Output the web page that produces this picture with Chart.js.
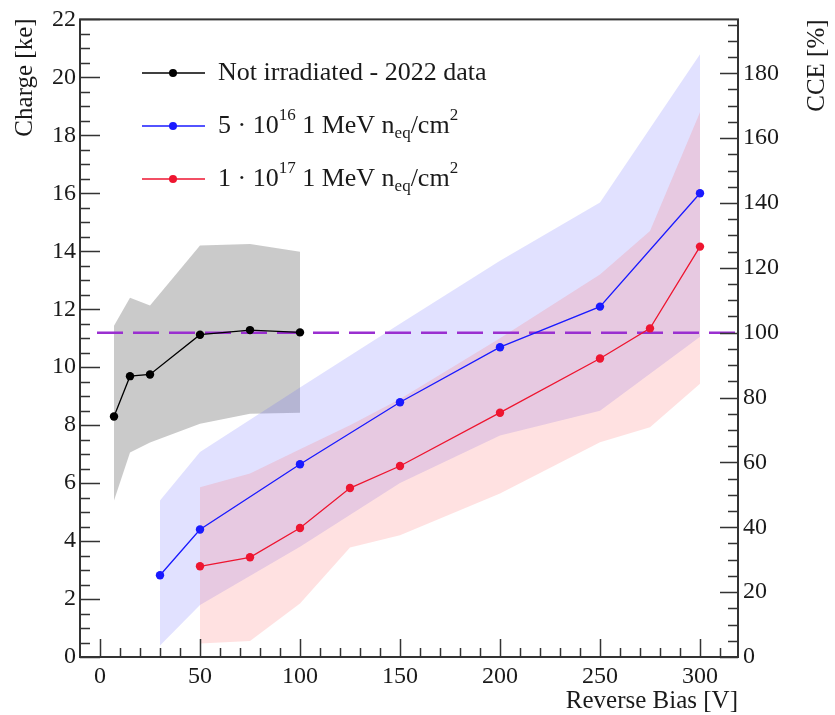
<!DOCTYPE html>
<html>
<head>
<meta charset="utf-8">
<script src="https://cdn.jsdelivr.net/npm/chart.js@4.4.1/dist/chart.umd.min.js"></script>
<style>
html, body { margin: 0; padding: 0; background: #fff; }
</style>
</head>
<body>
<canvas id="myChart" width="835" height="715"></canvas>
<script>
// reverse bias [V] and charge [ke]
var biasNonIrr = [7, 15, 25, 50, 75, 100];
var chargeNonIrr = [8.30, 9.69, 9.75, 11.12, 11.28, 11.20];
var bandNonIrrHigh = [11.43, 12.4, 12.13, 14.2, 14.25, 13.98];
var bandNonIrrLow = [5.4, 7.06, 7.4, 8.05, 8.39, 8.43];

var bias5e16 = [30, 50, 100, 150, 200, 250, 300];
var charge5e16 = [2.82, 4.40, 6.65, 8.79, 10.69, 12.09, 16.0];
var band5e16High = [5.4, 7.07, 9.3, 11.5, 13.67, 15.68, 20.8];
var band5e16Low = [0.4, 1.79, 3.8, 6.0, 7.64, 8.5, 11.05];

var bias1e17 = [50, 75, 100, 125, 150, 200, 250, 275, 300];
var charge1e17 = [3.13, 3.44, 4.45, 5.83, 6.59, 8.43, 10.3, 11.34, 14.16];
var band1e17High = [5.86, 6.33, 7.17, 8.0, 8.9, 11.0, 13.2, 14.7, 18.8];
var band1e17Low = [0.47, 0.55, 1.85, 3.78, 4.2, 5.64, 7.41, 7.93, 9.43];

// 100 % CCE reference
var fullChargeKe = 11.19;
var refLineBias = [-1.5, 319];

var biasTicks = [0, 50, 100, 150, 200, 250, 300];
var chargeTicks = [0, 2, 4, 6, 8, 10, 12, 14, 16, 18, 20, 22];
var cceTicks = [0, 20, 40, 60, 80, 100, 120, 140, 160, 180];

var FONT = "'Liberation Serif', 'DejaVu Serif', serif";

function pts(xs, ys) {
    return xs.map(function (x, i) { return { x: x, y: ys[i] }; });
}

function band(xs, hi, lo, color, order) {
    return [{
        data: pts(xs, hi),
        borderWidth: 0,
        pointRadius: 0,
        backgroundColor: color,
        fill: '+1',
        order: order
    }, {
        data: pts(xs, lo),
        borderWidth: 0,
        pointRadius: 0,
        fill: false,
        order: order
    }];
}

function series(xs, ys, color) {
    return {
        data: pts(xs, ys),
        borderColor: color,
        backgroundColor: color,
        borderWidth: 1.3,
        pointRadius: 4.2,
        pointBorderWidth: 0,
        pointBackgroundColor: color,
        fill: false,
        order: 0
    };
}

var legendRows = [
    { color: '#000000', parts: [['Not irradiated - 2022 data', 'n']] },
    { color: '#1a1aff', parts: [['5 \u00b7 10', 'n'], ['16', 'sup'], [' 1 MeV n', 'n'], ['eq', 'sub'], ['/cm', 'n'], ['2', 'sup']] },
    { color: '#ee1530', parts: [['1 \u00b7 10', 'n'], ['17', 'sup'], [' 1 MeV n', 'n'], ['eq', 'sub'], ['/cm', 'n'], ['2', 'sup']] }
];

function drawRich(ctx, parts, x, y) {
    parts.forEach(function (p) {
        var dy = 0;
        if (p[1] === 'n') {
            ctx.font = '26px ' + FONT;
        } else {
            ctx.font = '17px ' + FONT;
            dy = p[1] === 'sup' ? -10 : 8;
        }
        ctx.fillText(p[0], x, y + dy);
        x += ctx.measureText(p[0]).width;
    });
}

var rootStyle = {
    id: 'rootStyle',
    afterDraw: function (chart) {
        var ctx = chart.ctx;
        var a = chart.chartArea;
        var sx = chart.scales.x, sy = chart.scales.y, sy2 = chart.scales.y2;
        ctx.save();
        ctx.strokeStyle = '#333';
        ctx.lineWidth = 1.5;
        ctx.beginPath();
        var v, p, len;
        for (v = 0; v <= 310; v += 10) {
            p = Math.round(sx.getPixelForValue(v)) + 0.5;
            len = v % 50 === 0 ? 18 : 9;
            ctx.moveTo(p, a.bottom);
            ctx.lineTo(p, a.bottom - len);
        }
        for (v = 0; v <= 22; v += 0.5) {
            p = Math.round(sy.getPixelForValue(v)) + 0.5;
            len = v % 2 === 0 ? 20 : 10;
            ctx.moveTo(a.left, p);
            ctx.lineTo(a.left + len, p);
        }
        for (v = 0; v <= 195; v += 5) {
            p = Math.round(sy2.getPixelForValue(v)) + 0.5;
            len = v % 20 === 0 ? 18 : 10;
            ctx.moveTo(a.right, p);
            ctx.lineTo(a.right - len, p);
        }
        ctx.stroke();
        ctx.lineWidth = 2;
        ctx.strokeRect(a.left, a.top, a.right - a.left, a.bottom - a.top);

        // axis titles
        ctx.fillStyle = '#1a1a1a';
        ctx.font = '25px ' + FONT;
        ctx.textBaseline = 'middle';
        ctx.textAlign = 'right';
        ctx.fillText('Reverse Bias [V]', a.right, 701);
        ctx.save();
        ctx.translate(25, a.top - 1);
        ctx.rotate(-Math.PI / 2);
        ctx.fillText('Charge [ke]', 0, 0);
        ctx.restore();
        ctx.save();
        ctx.translate(817, a.top);
        ctx.rotate(-Math.PI / 2);
        ctx.fillText('CCE [%]', 0, 0);
        ctx.restore();

        // legend
        ctx.textAlign = 'left';
        ctx.textBaseline = 'middle';
        legendRows.forEach(function (row, i) {
            var y = 73 + i * 53;
            ctx.strokeStyle = row.color;
            ctx.lineWidth = 1.5;
            ctx.beginPath();
            ctx.moveTo(142, y);
            ctx.lineTo(205, y);
            ctx.stroke();
            ctx.fillStyle = row.color;
            ctx.beginPath();
            ctx.arc(173, y, 4, 0, Math.PI * 2);
            ctx.fill();
            ctx.fillStyle = '#1a1a1a';
            drawRich(ctx, row.parts, 218, y);
        });
        ctx.restore();
    }
};

var datasets = []
    .concat(band(biasNonIrr, bandNonIrrHigh, bandNonIrrLow, 'rgba(150,150,150,0.5)', 4))
    .concat(band(bias5e16, band5e16High, band5e16Low, 'rgba(90,90,255,0.18)', 3))
    .concat(band(bias1e17, band1e17High, band1e17Low, 'rgba(255,90,90,0.18)', 2))
    .concat([{
        data: pts(refLineBias, [fullChargeKe, fullChargeKe]),
        borderColor: '#9a2fd0',
        borderWidth: 2.5,
        borderDash: [26, 10],
        pointRadius: 0,
        fill: false,
        order: 1
    }])
    .concat([
        series(biasNonIrr, chargeNonIrr, '#000000'),
        series(bias5e16, charge5e16, '#1a1aff'),
        series(bias1e17, charge1e17, '#ee1530')
    ]);

var tickFont = { family: FONT, size: 24 };

new Chart('myChart', {
    type: 'line',
    data: { datasets: datasets },
    options: {
        responsive: false,
        animation: false,
        devicePixelRatio: 1,
        layout: { padding: { top: 18, left: 0, right: 0, bottom: 0 } },
        plugins: { legend: { display: false }, tooltip: { enabled: false } },
        elements: { line: { tension: 0 } },
        scales: {
            x: {
                type: 'linear',
                min: -10,
                max: 319,
                grid: { display: false, drawTicks: false },
                border: { display: false },
                ticks: { font: tickFont, color: '#1a1a1a', padding: 5, maxRotation: 0 },
                afterBuildTicks: function (s) { s.ticks = biasTicks.map(function (v) { return { value: v }; }); },
                afterFit: function (s) { s.height = 58; }
            },
            y: {
                type: 'linear',
                position: 'left',
                min: 0,
                max: 22,
                grid: { display: false, drawTicks: false },
                border: { display: false },
                ticks: { font: tickFont, color: '#1a1a1a', padding: 4 },
                afterBuildTicks: function (s) { s.ticks = chargeTicks.map(function (v) { return { value: v }; }); },
                afterFit: function (s) { s.width = 80; }
            },
            y2: {
                type: 'linear',
                position: 'right',
                min: 0,
                max: 22 / fullChargeKe * 100,
                grid: { display: false, drawTicks: false },
                border: { display: false },
                ticks: { font: tickFont, color: '#1a1a1a', padding: 5 },
                afterBuildTicks: function (s) { s.ticks = cceTicks.map(function (v) { return { value: v }; }); },
                afterFit: function (s) { s.width = 97; }
            }
        }
    },
    plugins: [rootStyle]
});
</script>
</body>
</html>
